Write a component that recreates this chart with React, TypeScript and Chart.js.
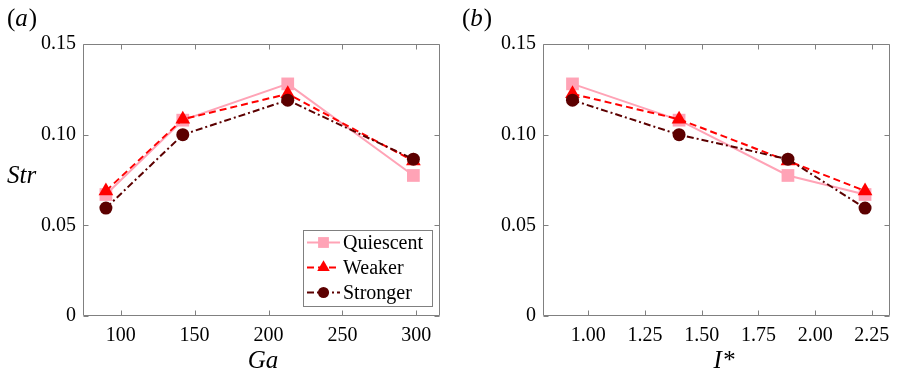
import React, { useEffect, useRef } from "react";
import { Chart, registerables } from "chart.js";

Chart.register(...registerables);

// ---- data ----
const seriesNames = ["Quiescent", "Weaker", "Stronger"];
const ga = [90, 142, 213, 298];
const iStar = [2.22, 1.4, 0.93, 1.88];
const strQuiescent = [0.067, 0.108, 0.128, 0.0775];
const strWeaker = [0.069, 0.1085, 0.1225, 0.0855];
const strStronger = [0.0595, 0.1, 0.119, 0.0865];
const yTicks = [0, 0.05, 0.1, 0.15];
const yTickLabels = ["0", "0.05", "0.10", "0.15"];
const gaTicks = [100, 150, 200, 250, 300];
const gaTickLabels = ["100", "150", "200", "250", "300"];
const iStarTicks = [1.0, 1.25, 1.5, 1.75, 2.0, 2.25];
const iStarTickLabels = ["1.00", "1.25", "1.50", "1.75", "2.00", "2.25"];

const AXIS_GRAY = "#808080";

function pickSerif(): string {
  const candidates = ["Liberation Serif", "Times New Roman", "Tinos", "Nimbus Roman", "DejaVu Serif", "Noto Serif", "FreeSerif"];
  const c = document.createElement("canvas").getContext("2d");
  if (!c) return "serif";
  const sample = "0.15 Quiescent Weaker Stronger";
  const widthFor = (f: string) => {
    c.font = f;
    return c.measureText(sample).width;
  };
  for (const name of candidates) {
    const a = widthFor(`20px "${name}", monospace`);
    const b = widthFor(`20px monospace`);
    const d = widthFor(`20px "${name}", sans-serif`);
    const e = widthFor(`20px sans-serif`);
    if (a !== b && d !== e) return `"${name}"`;
  }
  return "serif";
}

const styles = [
  { color: "#ffa3b6", dash: [] as number[], point: "rect", radius: 9, order: 3 },
  { color: "#ff0000", dash: [7, 4], point: "triangle", radius: 8.5, order: 2 },
  { color: "#5c0000", dash: [7, 3, 2, 3], point: "circle", radius: 6.5, order: 1 },
];
const seriesValues = [strQuiescent, strWeaker, strStronger];

function drawMarker(ctx: CanvasRenderingContext2D, kind: string, x: number, y: number, r: number, color: string) {
  ctx.save();
  ctx.fillStyle = color;
  ctx.setLineDash([]);
  ctx.beginPath();
  if (kind === "rect") {
    const s = Math.SQRT1_2 * r;
    ctx.rect(x - s, y - s, 2 * s, 2 * s);
  } else if (kind === "triangle") {
    for (let k = 0; k < 3; k++) {
      const a = (k * 2 * Math.PI) / 3;
      const px = x + Math.sin(a) * r;
      const py = y - Math.cos(a) * r;
      if (k === 0) ctx.moveTo(px, py);
      else ctx.lineTo(px, py);
    }
    ctx.closePath();
  } else {
    ctx.arc(x, y, r, 0, Math.PI * 2);
  }
  ctx.fill();
  ctx.restore();
}

type PanelCfg = {
  xVals: number[];
  xMin: number;
  xMax: number;
  xTicks: number[];
  xTickLabels: string[];
  yAxisWidth: number;
  xTitle: string;
  xTitleX: number;
  panelLetter: string;
  panelX: number;
  yTitle: boolean;
  legend: boolean;
};

function buildConfig(cfg: PanelCfg, SERIF: string): any {
  const datasets = seriesNames.map((name, si) => {
    const st = styles[si];
    const pts = cfg.xVals
      .map((x, i) => ({ x, y: seriesValues[si][i] }))
      .sort((a, b) => a.x - b.x);
    return {
      label: name,
      data: pts,
      borderColor: st.color,
      backgroundColor: st.color,
      borderWidth: 2,
      borderDash: st.dash,
      pointStyle: st.point,
      pointRadius: st.radius,
      pointBorderWidth: 0,
      pointBackgroundColor: st.color,
      pointBorderColor: st.color,
      order: st.order,
      tension: 0,
      fill: false,
      showLine: true,
    };
  });

  const framePlugin = {
    id: "frame",
    afterDraw(chart: any) {
      const ctx: CanvasRenderingContext2D = chart.ctx;
      const a = chart.chartArea;
      const xs = chart.scales.x;
      const ys = chart.scales.y;
      const L = Math.round(a.left) + 0.5;
      const R = Math.round(a.right) - 0.5;
      const T = Math.round(a.top) + 0.5;
      const B = Math.round(a.bottom) - 0.5;
      ctx.save();
      ctx.strokeStyle = AXIS_GRAY;
      ctx.lineWidth = 1;
      ctx.setLineDash([]);
      ctx.beginPath();
      ctx.rect(L, T, R - L, B - T);
      ctx.stroke();
      const tl = 5;
      ctx.beginPath();
      cfg.xTicks.forEach((v) => {
        const px = Math.round(xs.getPixelForValue(v)) + 0.5;
        ctx.moveTo(px, B);
        ctx.lineTo(px, B - tl);
        ctx.moveTo(px, T);
        ctx.lineTo(px, T + tl);
      });
      yTicks.forEach((v) => {
        const py = Math.round(ys.getPixelForValue(v)) + 0.5;
        ctx.moveTo(L, py);
        ctx.lineTo(L + tl, py);
        ctx.moveTo(R, py);
        ctx.lineTo(R - tl, py);
      });
      ctx.stroke();

      if (cfg.legend) {
        const bx = 303.5, by = 230.5, bw = 129, bh = 76;
        ctx.fillStyle = "#ffffff";
        ctx.fillRect(bx, by, bw, bh);
        ctx.strokeStyle = AXIS_GRAY;
        ctx.strokeRect(bx, by, bw, bh);
        const rows = [242.5, 267.5, 292.5];
        seriesNames.forEach((name, si) => {
          const st = styles[si];
          const ry = rows[si];
          ctx.save();
          ctx.strokeStyle = st.color;
          ctx.lineWidth = 2;
          ctx.setLineDash(st.dash);
          ctx.beginPath();
          ctx.moveTo(307, ry);
          ctx.lineTo(340, ry);
          ctx.stroke();
          ctx.restore();
          drawMarker(ctx, st.point, 323.5, ry, st.radius * 0.85, st.color);
          ctx.fillStyle = "#000";
          ctx.font = `20px ${SERIF}`;
          ctx.textAlign = "left";
          ctx.textBaseline = "middle";
          ctx.fillText(name, 343, ry + 1);
        });
      }

      ctx.fillStyle = "#000";
      ctx.textBaseline = "alphabetic";
      ctx.font = `italic 25px ${SERIF}`;
      ctx.textAlign = "center";
      ctx.fillText(cfg.xTitle, cfg.xTitleX, 368);
      if (cfg.yTitle) {
        ctx.textAlign = "left";
        ctx.fillText("Str", 7, 183);
      }
      ctx.textAlign = "left";
      let px = cfg.panelX;
      ctx.font = `25px ${SERIF}`;
      ctx.fillText("(", px, 26);
      px += ctx.measureText("(").width;
      ctx.font = `italic 25px ${SERIF}`;
      ctx.fillText(cfg.panelLetter, px, 26);
      px += ctx.measureText(cfg.panelLetter).width + 1;
      ctx.font = `25px ${SERIF}`;
      ctx.fillText(")", px, 26);
      ctx.restore();
    },
  };

  const tickFont = { family: SERIF, size: 20 };

  return {
    type: "line",
    data: { datasets },
    plugins: [framePlugin],
    options: {
      animation: false,
      responsive: false,
      maintainAspectRatio: false,
      layout: { padding: { top: 44, left: 0, right: 0, bottom: 0 } },
      plugins: { legend: { display: false }, tooltip: { enabled: false } },
      scales: {
        x: {
          type: "linear",
          min: cfg.xMin,
          max: cfg.xMax,
          grid: { display: false, drawTicks: false },
          border: { display: false },
          ticks: {
            font: tickFont,
            color: "#000",
            padding: 8,
            maxRotation: 0,
            autoSkip: false,
            callback: (_v: any, idx: number) => cfg.xTickLabels[idx],
          },
          afterBuildTicks: (s: any) => {
            s.ticks = cfg.xTicks.map((v) => ({ value: v }));
          },
          afterFit: (s: any) => {
            s.height = 60;
            s.paddingLeft = 0;
            s.paddingRight = 0;
          },
        },
        y: {
          type: "linear",
          min: 0,
          max: 0.15,
          grid: { display: false, drawTicks: false },
          border: { display: false },
          ticks: {
            font: tickFont,
            color: "#000",
            padding: 7,
            autoSkip: false,
            callback: (_v: any, idx: number) => yTickLabels[idx],
          },
          afterBuildTicks: (s: any) => {
            s.ticks = yTicks.map((v) => ({ value: v }));
          },
          afterFit: (s: any) => {
            s.width = cfg.yAxisWidth;
            s.paddingTop = 0;
            s.paddingBottom = 0;
          },
        },
      },
    },
  };
}

function Panel({ cfg, left, width }: { cfg: PanelCfg; left: number; width: number }) {
  const ref = useRef<HTMLCanvasElement>(null);
  useEffect(() => {
    if (!ref.current) return;
    const serif = pickSerif();
    const chart = new Chart(ref.current, buildConfig(cfg, serif));
    return () => chart.destroy();
  }, []);
  return (
    <canvas
      ref={ref}
      width={width}
      height={376}
      style={{ position: "absolute", left, top: 0, width, height: 376, display: "block" }}
    />
  );
}

const panelA: PanelCfg = {
  xVals: ga,
  xMin: 74.5,
  xMax: 316,
  xTicks: gaTicks,
  xTickLabels: gaTickLabels,
  yAxisWidth: 83,
  xTitle: "Ga",
  xTitleX: 263,
  panelLetter: "a",
  panelX: 7,
  yTitle: true,
  legend: true,
};

const panelB: PanelCfg = {
  xVals: iStar,
  xMin: 0.8,
  xMax: 2.33,
  xTicks: iStarTicks,
  xTickLabels: iStarTickLabels,
  yAxisWidth: 94,
  xTitle: "I*",
  xTitleX: 275,
  panelLetter: "b",
  panelX: 13,
  yTitle: false,
  legend: false,
};

export default function App() {
  return (
    <div
      style={{
        position: "absolute",
        left: 0,
        top: 0,
        width: 899,
        height: 376,
        background: "#ffffff",
        overflow: "hidden",
      }}
    >
      <Panel cfg={panelA} left={0} width={449} />
      <Panel cfg={panelB} left={449} width={450} />
    </div>
  );
}
